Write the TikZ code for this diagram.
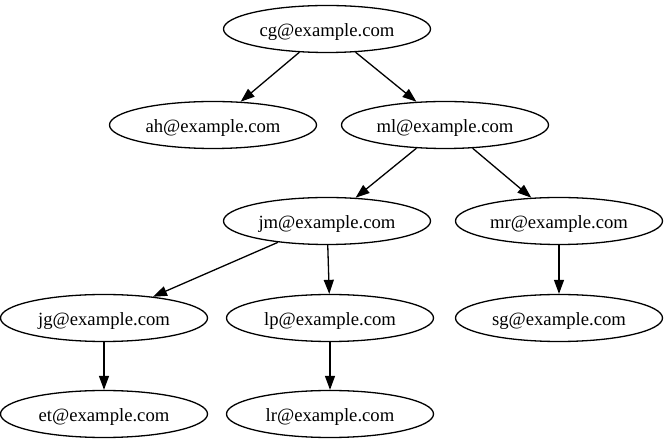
\documentclass[tikz,border=0pt]{standalone}
\usepackage{fontspec}
\setmainfont{Liberation Serif}
\usetikzlibrary{shapes.geometric, arrows.meta}
\tikzset{
  person/.style={ellipse, draw=black, line width=1.3pt, minimum width=207pt, minimum height=47pt, inner sep=0pt, text height=19pt, text depth=4pt, font=\fontsize{18.67}{20}\selectfont},
  arrow/.style={-{Triangle[length=14pt, width=10pt]}, line width=1.3pt},
}
\begin{document}
\begin{tikzpicture}[x=1pt, y=-1pt]
\useasboundingbox (0,0) rectangle (670,443);
\node[person] (cg) at (327,29) {cg@example.com};
\node[person] (ah) at (213,125) {ah@example.com};
\node[person] (ml) at (445,125) {ml@example.com};
\node[person] (jm) at (327,221) {jm@example.com};
\node[person] (mr) at (559,221) {mr@example.com};
\node[person] (jg) at (104,318) {jg@example.com};
\node[person] (lp) at (330,318) {lp@example.com};
\node[person] (sg) at (559,318) {sg@example.com};
\node[person] (et) at (104,414) {et@example.com};
\node[person] (lr) at (330,414) {lr@example.com};
\draw[arrow] (cg) -- (ah);
\draw[arrow] (cg) -- (ml);
\draw[arrow] (ml) -- (jm);
\draw[arrow] (ml) -- (mr);
\draw[arrow] (jm) -- (jg);
\draw[arrow] (jm) -- (lp);
\draw[arrow] (mr) -- (sg);
\draw[arrow] (jg) -- (et);
\draw[arrow] (lp) -- (lr);
\end{tikzpicture}
\end{document}
